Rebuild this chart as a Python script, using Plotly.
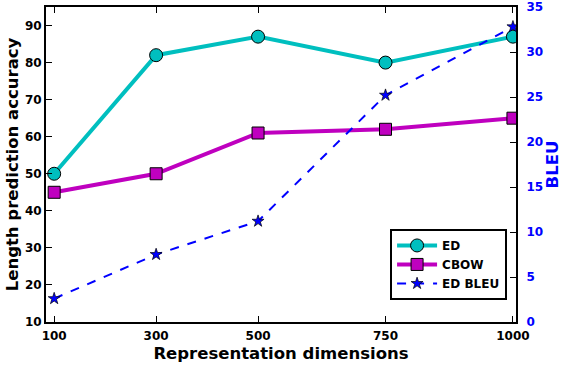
import plotly.graph_objects as go

dims = [100, 300, 500, 750, 1000]
tick_labels = ["100", "300", "500", "750", "1000"]
ed_acc = [50, 82, 87, 80, 87]
cbow_acc = [45, 50, 61, 62, 65]
ed_bleu = [2.6, 7.5, 11.2, 25.2, 32.8]

FONT = "DejaVu Sans"
fig = go.Figure()
fig.add_trace(go.Scatter(
    x=dims, y=ed_acc, name="ED", mode="lines+markers",
    line=dict(color="#00BFBF", width=4),
    marker=dict(symbol="circle", size=13, color="#00BFBF", line=dict(color="black", width=1)),
))
fig.add_trace(go.Scatter(
    x=dims, y=cbow_acc, name="CBOW", mode="lines+markers",
    line=dict(color="#BF00BF", width=4),
    marker=dict(symbol="square", size=12, color="#BF00BF", line=dict(color="black", width=1)),
))
fig.add_trace(go.Scatter(
    x=dims, y=ed_bleu, name="ED BLEU", mode="lines+markers", yaxis="y2",
    line=dict(color="#0000FF", width=2, dash="dash"),
    marker=dict(symbol="star", size=9, color="#0000FF", line=dict(color="black", width=0.7)),
))

fig.update_layout(
    width=562, height=366,
    margin=dict(l=46, r=46, t=7, b=44, pad=0),
    plot_bgcolor="white", paper_bgcolor="white",
    font=dict(family=FONT, size=12, color="black", weight="bold"),
    showlegend=True,
    legend=dict(x=0.981, y=0.07, xanchor="right", yanchor="bottom",
                bordercolor="black", borderwidth=2, bgcolor="white",
                font=dict(size=12, family=FONT, weight="bold"),
                itemwidth=40, tracegroupgap=0),
    xaxis=dict(range=[84, 1006], tickvals=dims, ticktext=tick_labels, automargin=False,
               ticks="inside", ticklen=6, tickwidth=1, tickcolor="black",
               showline=True, linecolor="black", linewidth=2, mirror="ticks",
               showgrid=False, zeroline=False, ticklabelstandoff=2,
               title=dict(text="Representation dimensions", font=dict(size=16.5, family=FONT, weight="bold"), standoff=5)),
    yaxis=dict(range=[10, 95], tickvals=[10, 20, 30, 40, 50, 60, 70, 80, 90], automargin=False,
               ticks="inside", ticklen=6, tickwidth=1, tickcolor="black",
               showline=True, linecolor="black", linewidth=2,
               showgrid=False, zeroline=False,
               title=dict(text="Length prediction accuracy", font=dict(size=16.5, family=FONT, weight="bold"), standoff=2)),
    yaxis2=dict(range=[0, 35], tickvals=[0, 5, 10, 15, 20, 25, 30, 35], overlaying="y", side="right",
                automargin=False, ticklabelstandoff=6,
                ticks="inside", ticklen=6, tickwidth=1, tickcolor="black",
                showline=True, linecolor="black", linewidth=2,
                showgrid=False, zeroline=False,
                tickfont=dict(color="#0000FF", size=12, family=FONT, weight="bold"),
                title=dict(text="BLEU", font=dict(size=16.5, color="#0000FF", family=FONT, weight="bold"), standoff=8)),
)
fig.write_html("out.html", config={"displayModeBar": False},
               post_script="document.body.style.margin='0';document.body.style.padding='0';")
